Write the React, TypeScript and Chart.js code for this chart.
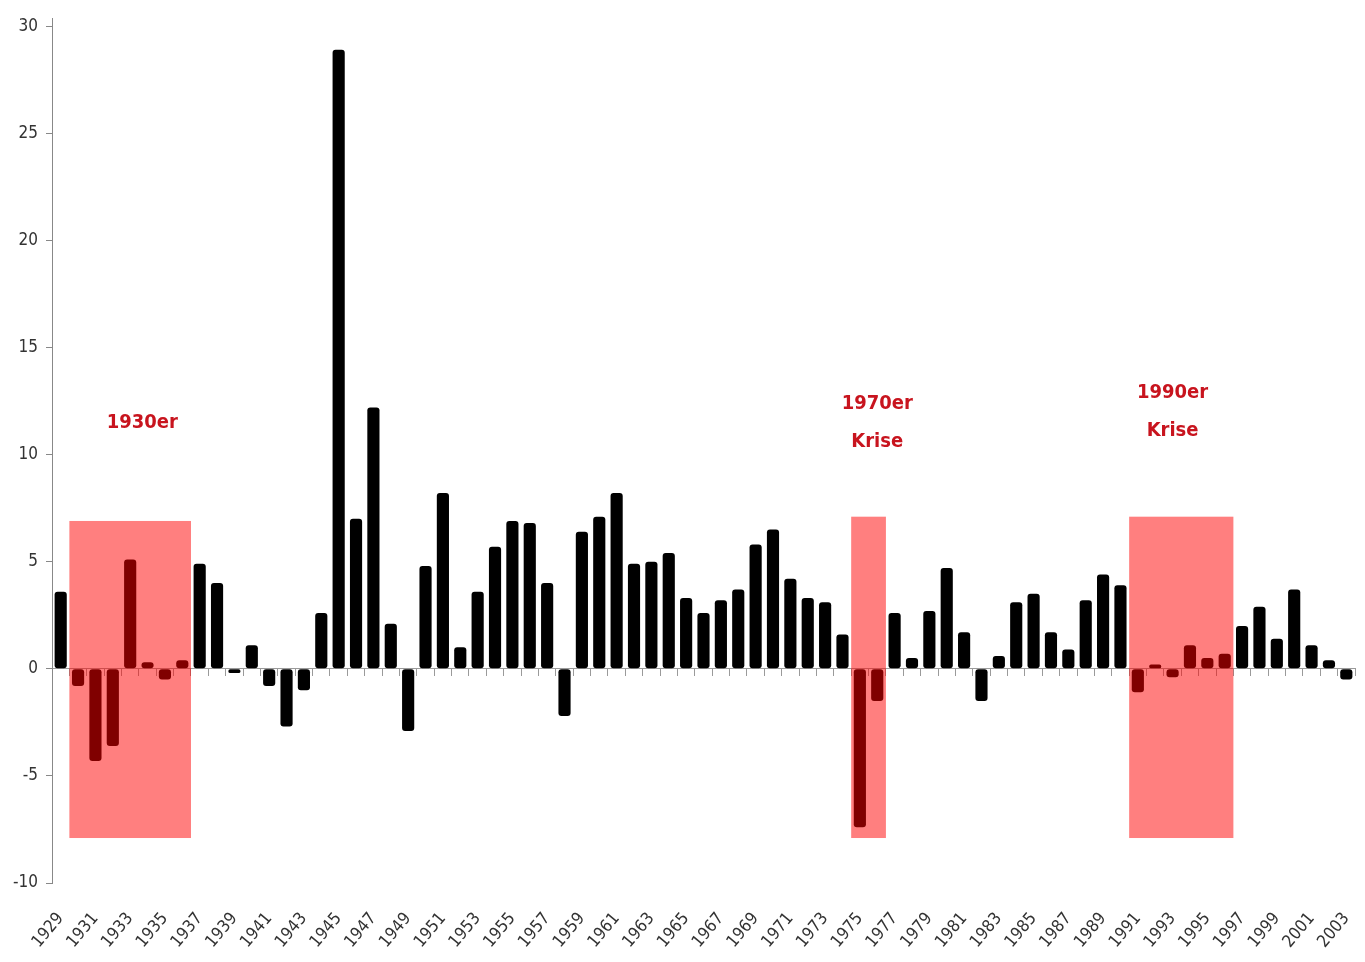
import React, { useEffect, useRef } from 'react';
import { Chart, registerables } from 'chart.js';

Chart.register(...registerables);

const years = [
  '1929', '1930', '1931', '1932', '1933', '1934', '1935', '1936', '1937', '1938',
  '1939', '1940', '1941', '1942', '1943', '1944', '1945', '1946', '1947', '1948',
  '1949', '1950', '1951', '1952', '1953', '1954', '1955', '1956', '1957', '1958',
  '1959', '1960', '1961', '1962', '1963', '1964', '1965', '1966', '1967', '1968',
  '1969', '1970', '1971', '1972', '1973', '1974', '1975', '1976', '1977', '1978',
  '1979', '1980', '1981', '1982', '1983', '1984', '1985', '1986', '1987', '1988',
  '1989', '1990', '1991', '1992', '1993', '1994', '1995', '1996', '1997', '1998',
  '1999', '2000', '2001', '2002', '2003',
];

const growth = [
  3.6, -0.8, -4.3, -3.6, 5.1, 0.3, -0.5, 0.4, 4.9, 4.0,
  -0.2, 1.1, -0.8, -2.7, -1.0, 2.6, 28.9, 7.0, 12.2, 2.1,
  -2.9, 4.8, 8.2, 1.0, 3.6, 5.7, 6.9, 6.8, 4.0, -2.2,
  6.4, 7.1, 8.2, 4.9, 5.0, 5.4, 3.3, 2.6, 3.2, 3.7,
  5.8, 6.5, 4.2, 3.3, 3.1, 1.6, -7.4, -1.5, 2.6, 0.5,
  2.7, 4.7, 1.7, -1.5, 0.6, 3.1, 3.5, 1.7, 0.9, 3.2,
  4.4, 3.9, -1.1, 0.2, -0.4, 1.1, 0.5, 0.7, 2.0, 2.9,
  1.4, 3.7, 1.1, 0.4, -0.5,
];

const yTicks = [-10, -5, 0, 5, 10, 15, 20, 25, 30];

// crisis bands
const bandFrom = ['1930', '1975', '1991'];
const bandTo = ['1936', '1976', '1996'];
const bandLow = [-7.9, -7.9, -7.9];
const bandHigh = [6.9, 7.1, 7.1];

// crisis labels
const noteLines = [['1930er'], ['1970er', 'Krise'], ['1990er', 'Krise']];
const noteYear = ['1933.7', '1976', '1993'];
const noteValue = [11.5, 11.5, 12.0];

const FONT = '"DejaVu Sans Condensed", "Open Sans", sans-serif';

const bandsPlugin = {
  id: 'crisisBands',
  afterDatasetsDraw(chart: any) {
    const { ctx } = chart;
    const xs = chart.scales.x;
    const ys = chart.scales.y;
    const half = (xs.getPixelForValue(1) - xs.getPixelForValue(0)) / 2;
    ctx.save();
    ctx.fillStyle = 'rgba(255,0,0,0.5)';
    for (let i = 0; i < bandFrom.length; i++) {
      const x1 = xs.getPixelForValue(years.indexOf(bandFrom[i])) - half;
      const x2 = xs.getPixelForValue(years.indexOf(bandTo[i])) + half;
      const y1 = ys.getPixelForValue(bandHigh[i]);
      const y2 = ys.getPixelForValue(bandLow[i]);
      ctx.fillRect(x1, y1, x2 - x1, y2 - y1);
    }
    ctx.restore();
  },
  afterDraw(chart: any) {
    const { ctx } = chart;
    const xs = chart.scales.x;
    const ys = chart.scales.y;
    ctx.save();
    ctx.fillStyle = '#C8141E';
    ctx.font = `bold 20px ${FONT}`;
    ctx.textAlign = 'center';
    ctx.textBaseline = 'middle';
    const lineH = 38;
    for (let i = 0; i < noteLines.length; i++) {
      const yr = parseFloat(noteYear[i]);
      const idx = yr - parseFloat(years[0]);
      const cx = xs.getPixelForValue(idx);
      const cy = ys.getPixelForValue(noteValue[i]);
      const lines = noteLines[i];
      const start = cy - ((lines.length - 1) * lineH) / 2;
      lines.forEach((t, j) => ctx.fillText(t, cx, start + j * lineH));
    }
    ctx.restore();
  },
};

export default function App() {
  const ref = useRef<HTMLCanvasElement | null>(null);

  useEffect(() => {
    document.body.style.margin = '0';
    if (!ref.current) return;
    const chart = new Chart(ref.current, {
      type: 'bar',
      data: {
        labels: years,
        datasets: [
          {
            data: growth,
            backgroundColor: '#000000',
            borderRadius: 3,
            borderSkipped: false,
            barPercentage: 0.7,
            categoryPercentage: 1.0,
            xAxisID: 'x',
            yAxisID: 'y',
          },
        ],
      },
      options: {
        animation: false,
        responsive: true,
        maintainAspectRatio: false,
        layout: { padding: { top: 4, right: 10, left: 0, bottom: 0 } },
        plugins: { legend: { display: false }, tooltip: { enabled: false } },
        scales: {
          x: {
            type: 'category',
            position: 'bottom',
            grid: { display: false },
            border: { display: false },
            afterFit: (s: any) => {
              s.height = 79;
              s.paddingLeft = 0;
              s.paddingRight = 0;
            },
            ticks: {
              autoSkip: false,
              minRotation: 50,
              maxRotation: 50,
              padding: 18,
              color: '#333333',
              font: { size: 17, family: FONT },
              callback: (_v: any, i: number) => (i % 2 === 0 ? years[i] : ''),
            },
          },
          x2: {
            type: 'category',
            labels: years,
            position: { y: 0 } as any,
            offset: true,
            ticks: { display: false },
            grid: { offset: true, drawOnChartArea: false, drawTicks: true, tickLength: 7, color: '#9a9a9a' },
            border: { color: '#9a9a9a', width: 1 },
          },
          y: {
            type: 'linear',
            min: -10,
            max: 30.37,
            afterBuildTicks: (s: any) => { s.ticks = yTicks.map((v) => ({ value: v })); },
            afterFit: (s: any) => { s.width = 52; },
            grid: { drawOnChartArea: false, tickLength: 6, color: '#888888' },
            border: { color: '#888888' },
            ticks: {
              padding: 8,
              color: '#333333',
              font: { size: 17, family: FONT },
            },
          },
        },
      },
      plugins: [bandsPlugin],
    });
    return () => chart.destroy();
  }, []);

  return (
    <div style={{ width: 1365, height: 962, position: 'relative', background: '#fff' }}>
      <canvas ref={ref} />
    </div>
  );
}
